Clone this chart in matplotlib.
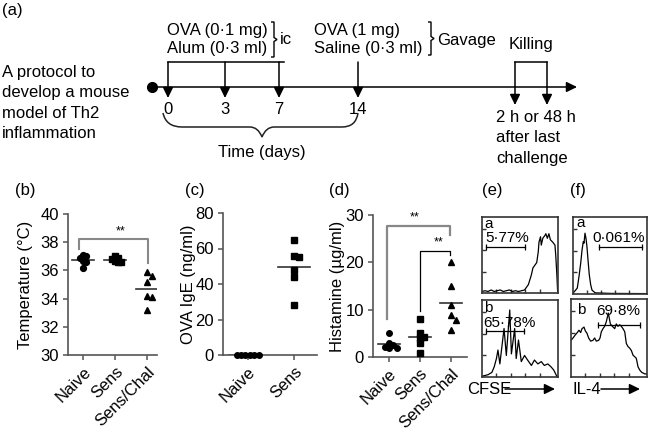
import matplotlib.pyplot as plt
from matplotlib.path import Path
from matplotlib.patches import PathPatch
import numpy as np

plt.rcParams['font.family'] = ['Liberation Sans', 'DejaVu Sans']
plt.rcParams['font.size'] = 12

W, H = 649, 429

# ---- data ----
days = [0, 3, 7, 14]

groups_b = ['Naive', 'Sens', 'Sens/Chal']
temp_naive = [37.1, 37.0, 36.9, 36.7, 36.6, 36.2]
temp_sens = [37.0, 36.9, 36.8, 36.7, 36.6, 36.6]
temp_chal = [35.9, 35.6, 35.2, 34.2, 34.1, 33.2]

groups_c = ['Naive', 'Sens']
ige_naive = [0, 0, 0, 0, 0, 0]
ige_sens = [65, 56, 55, 48, 44, 28]

groups_d = ['Naive', 'Sens', 'Sens/Chal']
hist_naive = [5.0, 3.0, 2.5, 2.2, 2.0, 2.0]
hist_sens = [8.0, 5.0, 4.2, 4.0, 3.0, 0.8]
hist_chal = [20, 15, 11, 8.8, 7.8, 5.8]

# flow histograms, x and y in % of the plot box
cfse_a_x = [0, 4, 8, 12, 16, 20, 24, 28, 32, 36, 40, 44, 48, 52, 56, 61, 65, 67, 72, 74,
            75, 77, 78, 80, 83, 84, 86, 88, 90, 93, 96, 97, 98.5, 99.5]
cfse_a_y = [2, 3, 2, 4, 2, 3, 4, 2, 3, 4, 2, 3, 2, 3, 4, 11, 24, 33, 40, 54,
            67, 74, 63, 72, 76, 78, 72, 78, 70, 67, 63, 50, 24, 2]
cfse_b_x = [0, 8, 13, 16, 19, 21, 23.5, 29, 32, 36.5, 38.7, 43, 45, 48, 51.7, 56, 60, 65,
            69, 73.5, 78, 82, 86.6, 91, 94.4, 97.4, 99]
cfse_b_y = [1, 3, 6, 13, 24, 35, 17, 63, 28, 87, 30, 63, 24, 48, 20, 28, 22, 15,
            22, 17, 20, 15, 17, 13, 9, 3, 0]
il4_a_x = [0, 5.8, 8.1, 10.4, 12.2, 13.9, 14.9, 16.2, 17.6, 18.9, 20.3, 22, 23.9, 25.7, 30, 50, 100]
il4_a_y = [1, 7.7, 22.7, 40, 57, 68, 66, 79, 72, 61, 44, 25, 12, 5, 1.5, 0.8, 0.5]
il4_b_x = [0, 2.6, 5.7, 8.3, 10.5, 12.7, 14.5, 17.1, 18.9, 21.1, 23.2, 25.9, 28.9, 31.1, 33.3,
           36.4, 38.2, 39.9, 42.1, 44.3, 46.5, 49.1, 51.8, 54.4, 57.5, 59.6, 61.8, 64.1, 66.2,
           68.4, 70.7, 72.8, 75, 77.2, 79.4, 81.6, 83.8, 85.9, 88.2, 90.4, 93, 97, 100]
il4_b_y = [47, 50, 54, 57, 60, 57, 62, 64, 59, 56, 50, 46, 47, 50, 46, 47, 50, 58, 62, 65,
           71, 82, 68, 65, 62, 68, 65, 67, 65, 62, 58, 43, 39, 37, 34, 28, 26, 24, 13, 9, 6, 4, 4]

fig = plt.figure(figsize=(W / 100, H / 100), dpi=100)


def px_axes(l, t, r, b):
    return fig.add_axes([l / W, 1 - b / H, (r - l) / W, (b - t) / H])


# overlay in pixel coordinates for the schematic and labels
ov = fig.add_axes([0, 0, 1, 1])
ov.set_xlim(0, W)
ov.set_ylim(H, 0)
ov.axis('off')


def arrow(x0, y0, x1, y1):
    ov.annotate('', xy=(x1, y1), xytext=(x0, y0),
                arrowprops=dict(arrowstyle='-|>,head_length=0.45,head_width=0.22',
                                color='k', lw=1.1, mutation_scale=14,
                                shrinkA=0, shrinkB=0))


def small_brace(x, y0, y1):
    ym = (y0 + y1) / 2
    v = [(x - 3, y0), (x, y0), (x, ym - 2), (x + 3, ym), (x, ym + 2), (x, y1), (x - 3, y1)]
    ov.add_patch(PathPatch(Path(v), fill=False, lw=1.0, color='k'))


# ---- panel (a) ----
ov.text(2, 10, '(a)', ha='left', va='center')
for i, line in enumerate(['A protocol to', 'develop a mouse', 'model of Th2', 'inflammation']):
    ov.text(2, 73 + 20 * i, line, ha='left', va='center')

day_x = {0: 168, 3: 225, 7: 279, 14: 358}
ov.plot([152], [87], 'o', color='k', ms=7)
arrow(152, 87, 577, 87)
ov.plot([day_x[0], 284], [62, 62], color='k', lw=1.1)
for d in days:
    arrow(day_x[d], 62, day_x[d], 98)
    ov.text(day_x[d], 109, str(d), ha='center', va='center')

ov.text(167, 30, 'OVA (0·1 mg)', ha='left', va='center')
ov.text(167, 49, 'Alum (0·3 ml)', ha='left', va='center')
small_brace(274, 22, 57)
ov.text(280, 40, 'ic', ha='left', va='center')

ov.text(314, 30, 'OVA (1 mg)', ha='left', va='center')
ov.text(314, 49, 'Saline (0·3 ml)', ha='left', va='center')
small_brace(431, 22, 55)
ov.text(437, 40, 'Gavage', ha='left', va='center')

ov.text(531, 45, 'Killing', ha='center', va='center')
ov.plot([515, 547], [62, 62], color='k', lw=1.1)
arrow(515, 62, 515, 105)
arrow(547, 62, 547, 105)
for i, line in enumerate(['2 h or 48 h', 'after last', 'challenge']):
    ov.text(496, 118 + 20 * i, line, ha='left', va='center')

bv = [(163, 113), (166, 127), (182, 127), (250, 127), (258, 127), (262, 137),
      (266, 127), (274, 127), (342, 127), (356, 127), (358, 113)]
bc = [Path.MOVETO, Path.CURVE3, Path.CURVE3, Path.LINETO, Path.CURVE3, Path.CURVE3,
      Path.CURVE3, Path.CURVE3, Path.LINETO, Path.CURVE3, Path.CURVE3]
ov.add_patch(PathPatch(Path(bv, bc), fill=False, lw=1.1, color='#222'))
ov.text(262, 152, 'Time (days)', ha='center', va='center')

# panel letters
for x, s in [(15, '(b)'), (185, '(c)'), (329, '(d)'), (482, '(e)'), (570, '(f)')]:
    ov.text(x, 190, s, ha='left', va='center')

# flow axis labels
ov.text(467, 389, 'CFSE', ha='left', va='center')
arrow(505, 389, 555, 389)
ov.text(573, 389, 'IL-4', ha='left', va='center')
arrow(601, 389, 640, 389)

# ---- dot plots ----
AX_COL = '#555'


def style_dot(ax, labels, xlim, ylim, yticks, ylabel, lab_x):
    ax.set_xlim(*xlim)
    ax.set_ylim(*ylim)
    ax.set_yticks(yticks)
    ax.set_xticks(range(len(labels)))
    ax.set_xticklabels(labels, rotation=45, ha='right', rotation_mode='anchor')
    for s in ['top', 'right']:
        ax.spines[s].set_visible(False)
    for s in ['left', 'bottom']:
        ax.spines[s].set_color(AX_COL)
        ax.spines[s].set_linewidth(1.2)
    ax.tick_params(length=3.5, width=1.1, color=AX_COL, pad=3)
    ax.set_ylabel(ylabel)
    ax.yaxis.set_label_coords(lab_x, 0.5)
    ax.patch.set_alpha(0)


def swarm(ax, xc, vals, d):
    placed, xs = [], []
    inv = ax.transData.inverted()
    for v in vals:
        cx, cy = ax.transData.transform((xc, v))
        for k in [0, 1, -1, 2, -2, 3, -3, 4, -4]:
            x = cx + k * d
            if all(np.hypot(x - px, cy - py) >= d - 1e-6 for px, py in placed):
                break
        placed.append((x, cy))
        xs.append(inv.transform((x, cy))[0])
    return xs


def dots(ax, xc, vals, marker, ms, d):
    xs = swarm(ax, xc, vals, d)
    ax.plot(xs, vals, marker, color='k', ms=ms, ls='none', clip_on=False, zorder=3)
    m = np.mean(vals)
    ax.plot([xc - 0.35, xc + 0.35], [m, m], color='#333', lw=1.2, zorder=2)


def bracket(ax, x0, y0, ytop, x1, y1, color, lw):
    ax.plot([x0, x0, x1, x1], [y0, ytop, ytop, y1], color=color, lw=lw, clip_on=False)


# (b)
axb = px_axes(68, 214, 157, 355)
style_dot(axb, groups_b, (-0.47, 2.31), (30, 40), range(30, 41, 2), 'Temperature (°C)', -0.39)
dots(axb, 0, temp_naive, 'o', 4.2, 3.2)
dots(axb, 1, temp_sens, 's', 4.0, 3.2)
dots(axb, 2, temp_chal, '^', 4.8, 4.5)
bracket(axb, -0.12, 37.5, 38.2, 2.04, 36.55, '#888', 1.5)
axb.text(1.16, 38.75, '**', ha='center', va='center', fontsize=9)

# (c)
axc = px_axes(223, 213, 317, 355)
style_dot(axc, groups_c, (-0.53, 1.49), (0, 80), range(0, 81, 20), 'OVA IgE (ng/ml)', -0.285)
dots(axc, -0.05, ige_naive, 'o', 4.0, 4.4)
dots(axc, 1, ige_sens, 's', 4.0, 5.0)

# (d)
axd = px_axes(373, 215, 467, 357)
style_dot(axd, groups_d, (-0.51, 2.52), (0, 30), range(0, 31, 10), 'Histamine (µg/ml)', -0.3)
dots(axd, 0, hist_naive, 'o', 4.0, 4.0)
dots(axd, 1, hist_sens, 's', 4.0, 4.6)
dots(axd, 2, hist_chal, '^', 4.8, 5.0)
bracket(axd, -0.07, 8, 27.6, 1.98, 25.7, '#888', 1.6)
axd.text(0.84, 29.4, '**', ha='center', va='center', fontsize=9)
bracket(axd, 1.0, 9.7, 22.5, 1.98, 21.5, 'k', 0.9)
axd.text(1.6, 24.1, '**', ha='center', va='center', fontsize=9)


# ---- flow histograms ----
def flow(rect, xs, ys, letter, pct, gate, gate_y, let_pos, pct_pos):
    ax = px_axes(*rect)
    ax.plot(xs, ys, color='k', lw=0.9)
    ax.set_xlim(0, 100)
    ax.set_ylim(0, 100)
    ax.set_xticks([19, 38, 57, 76])
    ax.set_yticks([28, 56, 84])
    ax.tick_params(direction='in', length=3, width=1, color='#333',
                   labelbottom=False, labelleft=False)
    for s in ax.spines.values():
        s.set_linewidth(1.2)
        s.set_color('#333')
    ax.plot(gate, [gate_y, gate_y], color='k', lw=0.9)
    ax.plot(gate, [gate_y, gate_y], '|', color='k', ms=4, mew=0.9)
    ax.text(*let_pos, letter, ha='left', va='center', fontsize=11)
    ax.text(*pct_pos, pct, ha='left', va='center', fontsize=11)


flow((482, 217, 558, 293), cfse_a_x, cfse_a_y, 'a', '5·77%', [5, 57], 61, (3, 91), (4, 72))
flow((482, 300, 558, 377), cfse_b_x, cfse_b_y, 'b', '65·78%', [5, 55], 60, (3, 90), (2, 70))
flow((573, 217, 647, 294), il4_a_x, il4_a_y, 'a', '0·061%', [35, 93], 61, (5, 92), (26, 73))
flow((571, 299, 647, 377), il4_b_x, il4_b_y, 'b', '69·8%', [35, 91], 67, (8, 86), (33, 84))

fig.savefig('out.png', dpi=100)
